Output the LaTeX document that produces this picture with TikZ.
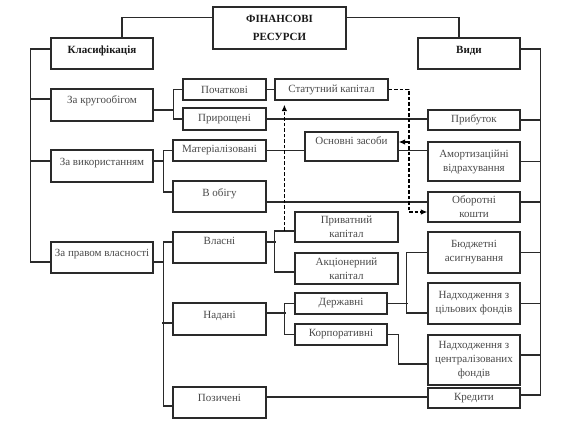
\documentclass[tikz,border=0pt]{standalone}
\usepackage{fontspec}
\setmainfont{Liberation Serif}
\usetikzlibrary{arrows.meta,calc}
\definecolor{linec}{HTML}{2A2A2A}
\definecolor{textc}{HTML}{4A4A4A}
\begin{document}
\begin{tikzpicture}[x=1pt,y=-1pt,
  box/.style={draw=linec, line width=1.2pt, fill=white, inner sep=1pt, align=center,
    font=\fontsize{11}{14}\selectfont, text=textc},
  hbox/.style={box, font=\bfseries\fontsize{11}{18}\selectfont, text=black!90},
  up/.style={text height=7pt, text depth=#1},
  conn/.style={draw=linec, line width=1.4pt},
  dasharr/.style={draw=black, line width=1.8pt, dash pattern=on 3.5pt off 2pt, -{Latex[length=6.5pt,width=5.5pt]}}]
\useasboundingbox (0,0) rectangle (565,427);
% headings
\node[hbox,minimum width=133pt,minimum height=42pt] (top) at (279.5,28) {ФІНАНСОВІ\\РЕСУРСИ};
\node[hbox,up=7.5pt,minimum width=102pt,minimum height=31pt] (klas) at (102,53.5) {Класифікація};
\node[hbox,up=7.5pt,minimum width=102pt,minimum height=31pt] (vydy) at (469,53.5) {Види};
% classification column
\node[box,up=10.5pt,minimum width=102pt,minimum height=32pt] (zk) at (102,105) {За кругообігом};
\node[box,up=8.5pt,minimum width=102pt,minimum height=32pt] (zv) at (102,166) {За використанням};
\node[box,up=9.5pt,minimum width=102pt,minimum height=31pt] (zp) at (102,257.5) {За правом власності};
% second column
\node[box,minimum width=83pt,minimum height=21pt] (poch) at (224.5,89.5) {Початкові};
\node[box,minimum width=83pt,minimum height=22pt] (pryr) at (224.5,119) {Прирощені};
\node[box,minimum width=93pt,minimum height=21pt] (mat) at (219.5,150.5) {Матеріалізовані};
\node[box,up=7.5pt,minimum width=93pt,minimum height=31pt] (obig) at (219.5,196.5) {В обігу};
\node[box,up=13.5pt,minimum width=93pt,minimum height=31pt] (vlas) at (219.5,247.5) {Власні};
\node[box,up=8.5pt,minimum width=93pt,minimum height=32pt] (nad) at (219.5,319) {Надані};
\node[box,up=9.5pt,minimum width=93pt,minimum height=31pt] (poz) at (219.5,402.5) {Позичені};
% third column
\node[box,minimum width=113pt,minimum height=21pt] (stat) at (331.5,89.5) {Статутний капітал};
\node[box,up=11.5pt,minimum width=93pt,minimum height=29pt] (osn) at (351.5,146.5) {Основні засоби};
\node[box,minimum width=103pt,minimum height=30pt] (pryv) at (346.5,227) {Приватний\\капітал};
\node[box,minimum width=103pt,minimum height=31pt] (akc) at (346.5,268.5) {Акціонерний\\капітал};
\node[box,minimum width=92pt,minimum height=21pt] (derzh) at (341,303.5) {Державні};
\node[box,minimum width=92pt,minimum height=21pt] (korp) at (341,334.5) {Корпоративні};
% kinds column
\node[box,minimum width=92pt,minimum height=20pt] (prybutok) at (474,120) {Прибуток};
\node[box,minimum width=92pt,minimum height=39pt] (amort) at (474,161.5) {Амортизаційні\\відрахування};
\node[box,minimum width=92pt,minimum height=30pt] (obor) at (474,207) {Оборотні\\кошти};
\node[box,minimum width=92pt,minimum height=41pt] (budg) at (474,252.5) {Бюджетні\\асигнування};
\node[box,minimum width=92pt,minimum height=41pt] (cilovi) at (474,303.5) {Надходження з\\цільових фондів};
\node[box,minimum width=92pt,minimum height=50pt] (centr) at (474,360) {Надходження з\\централізованих\\фондів};
\node[box,minimum width=92pt,minimum height=20pt] (kred) at (474,398) {Кредити};
% top connectors
\draw[conn] ([yshift=10.5pt]top.west) -| ([xshift=20pt]klas.north);
\draw[conn] ([yshift=10.5pt]top.east) -| ([xshift=-10pt]vydy.north);
% left bus
\draw[conn] ([yshift=4.5pt]klas.west) -| ([xshift=-20pt,yshift=-4.5pt]zp.west) -- ([yshift=-4.5pt]zp.west);
\draw[conn] ([yshift=6pt]zk.west) -- ++(-20,0);
\draw[conn] ([yshift=5pt]zv.west) -- ++(-20,0);
% right bus
\draw[conn] ([yshift=4.5pt]vydy.east) -| ([xshift=20pt,yshift=3pt]kred.east) -- ([yshift=3pt]kred.east);
\draw[conn] (prybutok.east) -- ++(20,0);
\draw[conn] (amort.east) -- ++(20,0);
\draw[conn] ([yshift=5pt]obor.east) -- ++(20,0);
\draw[conn] (budg.east) -- ++(20,0);
\draw[conn] (cilovi.east) -- ++(20,0);
\draw[conn] ([yshift=5pt]centr.east) -- ++(20,0);
% brackets from classification
\draw[conn] ([yshift=-5pt]zk.east) -- ++(20,0) coordinate (b1);
\draw[conn] (poch.west) -| (b1) |- (pryr.west);
\draw[conn] ([yshift=5pt]zv.east) -- ++(10,0) coordinate (b2);
\draw[conn] (mat.west) -| (b2) |- ([yshift=4.5pt]obig.west);
\draw[conn] ([yshift=-4.5pt]zp.east) -- ++(10,0) coordinate (b3);
\draw[conn] ([yshift=5.5pt]vlas.west) -| (b3) |- ([yshift=-3.5pt]poz.west);
\draw[conn] ([yshift=-4pt]nad.west) -- ++(-10,0);
% horizontal links
\draw[conn] (poch.east) -- (stat.west);
\draw[conn] (pryr.east) -- (pryr.east -| prybutok.west);
\draw[conn] (mat.east) -- (mat.east -| osn.west);
\draw[conn] (osn.east |- mat.east) -- (mat.east -| amort.west);
\draw[conn] ([yshift=-5.5pt]obig.east) -- ([yshift=-5.5pt]obig.east -| obor.west);
\draw[conn] ([yshift=5.5pt]poz.east) -- ([yshift=5.5pt]poz.east -| kred.west);
% own capital bracket
\draw[conn] ([yshift=5.5pt]vlas.east) -- ++(9,0);
\draw[conn] ([yshift=-4pt]pryv.west) -| ([xshift=-20pt,yshift=-3.5pt]akc.west) -- ([yshift=-3.5pt]akc.west);
% provided bracket
\draw[conn] ([yshift=6pt]nad.east) -- ++(19,0);
\draw[conn] (derzh.west) -| ([xshift=-10pt]korp.west) -- (korp.west);
\draw[conn] (derzh.east) -- ++(20,0);
\draw[conn] (budg.west) -| ([xshift=-21pt,yshift=-9.5pt]cilovi.west) -- ([yshift=-9.5pt]cilovi.west);
\draw[conn] (korp.east) -- ++(11,0) |- ([yshift=-4pt]centr.west);
% dashed arrows
\draw[dasharr] ([xshift=-10pt,yshift=-4pt]pryv.west) -- ([xshift=-10pt,yshift=-4pt]pryv.west |- stat.south);
\draw[dasharr] (stat.east) -- ++(20,0) |- ([yshift=-5pt]obor.west);
\draw[dasharr] ([xshift=10pt,yshift=4.5pt]osn.east) -- ([yshift=4.5pt]osn.east);
\end{tikzpicture}
\end{document}
